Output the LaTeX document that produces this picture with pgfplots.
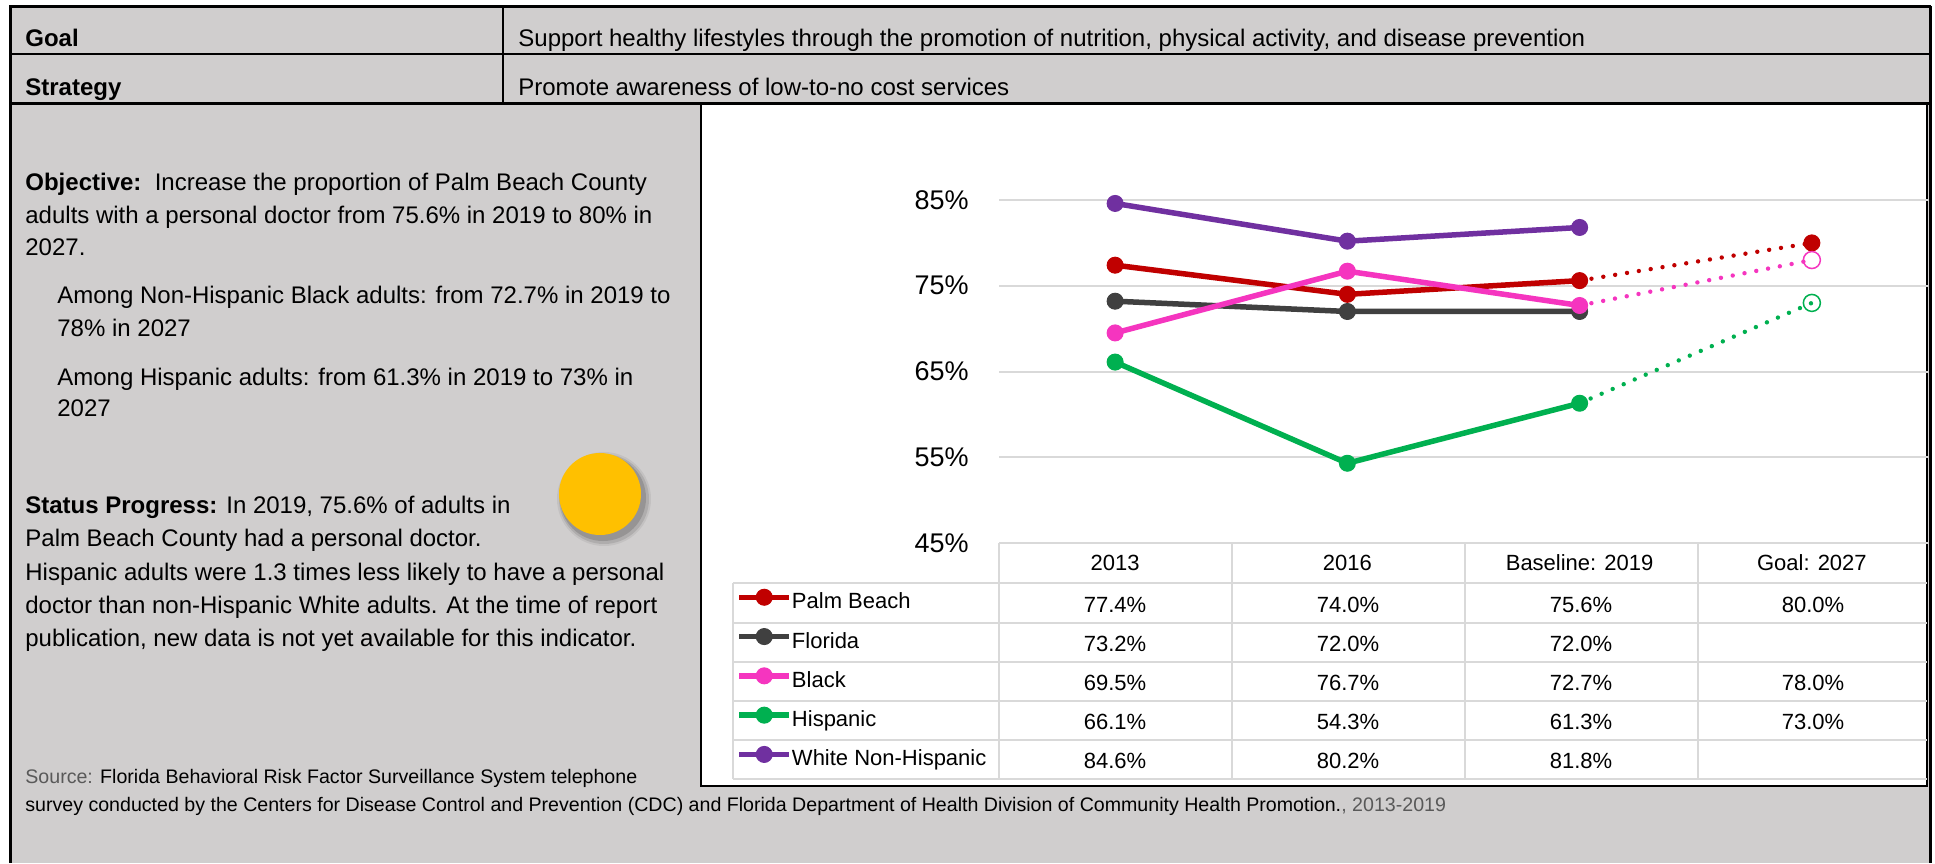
\documentclass[border=0pt]{standalone}
\usepackage{fontspec}
\setmainfont{Liberation Sans}
\usepackage{pgfplots}
\pgfplotsset{compat=1.18}
\definecolor{pbred}{HTML}{C00000}
\definecolor{flgray}{HTML}{404040}
\definecolor{blkpink}{HTML}{F535BF}
\definecolor{hispgreen}{HTML}{00B050}
\definecolor{whpurple}{HTML}{7030A0}
\definecolor{bggray}{HTML}{D0CECE}
\definecolor{gridgray}{HTML}{D9D9D9}
\definecolor{sunyellow}{HTML}{FFC000}
\definecolor{srcgray}{HTML}{595959}
\begin{document}
\begin{tikzpicture}
\begin{scope}[x=0.5pt,y=-0.5pt]
\useasboundingbox (0,0) rectangle (1935,863);
\fill[white] (0,0) rectangle (1935,863);
\fill[bggray] (10,6) rectangle (1930,863);
% chart box
\fill[white] (701,104) rectangle (1927,786);
\draw[black, line width=1pt] (701,104) rectangle (1927,786);
% header lines
\draw[line width=1.5pt] (9,6) -- (1931,6);
\draw[line width=1pt] (10,54) -- (1930,54);
\draw[line width=1.5pt] (10,103) -- (1930,103);
\draw[line width=1pt] (503,6) -- (503,103);
\draw[line width=1.5pt] (10,6) -- (10,863);
\draw[line width=1.5pt] (1930,6) -- (1930,863);
% header text
\begin{scope}[every node/.style={anchor=base west, inner sep=0pt}, font=\fontsize{12}{14}\selectfont]
\node at (25,46) {\textbf{Goal}};
\node at (518,46) {Support healthy lifestyles through the promotion of nutrition, physical activity, and disease prevention};
\node at (25,95) {\textbf{Strategy}};
\node at (518,95) {Promote awareness of low-to-no cost services};
\end{scope}
% left text
\begin{scope}[every node/.style={anchor=base west, inner sep=0pt}, font=\fontsize{12}{14}\selectfont]
\node at (25,190) {\textbf{Objective:}\ \ Increase the proportion of Palm Beach County};
\node at (25,223) {adults with a personal doctor from 75.6\% in 2019 to 80\% in};
\node at (25,255) {2027.};
\node at (57,303) {Among Non-Hispanic Black adults: from 72.7\% in 2019 to};
\node at (57,336) {78\% in 2027};
\node at (57,385) {Among Hispanic adults: from 61.3\% in 2019 to 73\% in};
\node at (57,416) {2027};
\node at (25,513) {\textbf{Status Progress:} In 2019, 75.6\% of adults in};
\node at (25,546) {Palm Beach County had a personal doctor.};
\node at (25,580) {Hispanic adults were 1.3 times less likely to have a personal};
\node at (25,613) {doctor than non-Hispanic White adults. At the time of report};
\node at (25,646) {publication, new data is not yet available for this indicator.};
\end{scope}
\begin{scope}[every node/.style={anchor=base west, inner sep=0pt}, font=\fontsize{9.8}{12}\selectfont]
\node at (25,783) {\textcolor{srcgray}{Source:} Florida Behavioral Risk Factor Surveillance System telephone};
\node at (25,811) {survey conducted by the Centers for Disease Control and Prevention (CDC) and Florida Department of Health Division of Community Health Promotion.\textcolor{srcgray}{, 2013-2019}};
\end{scope}
% status circle
\fill[black, opacity=0.06] (604,499) circle (47);
\fill[black, opacity=0.10] (604,499) circle (45);
\fill[black, opacity=0.14] (603,498) circle (43);
\fill[sunyellow] (600,494) circle (41);
% data table grid
\begin{scope}[gridgray, line width=1pt]
\foreach \yy in {583,623,662,701,740,779} {\draw (733,\yy) -- (1927,\yy);}
\foreach \xx in {999,1232,1465,1698} {\draw (\xx,543) -- (\xx,779);}
\draw (733,583) -- (733,779);
\end{scope}
% data table values
\begin{scope}[every node/.style={anchor=center, inner sep=0pt, text height=7.9pt, text depth=0pt}, font=\fontsize{11}{13}\selectfont]
\node at (1115,605) {77.4\%}; \node at (1348,605) {74.0\%}; \node at (1581,605) {75.6\%}; \node at (1813,605) {80.0\%};
\node at (1115,644) {73.2\%}; \node at (1348,644) {72.0\%}; \node at (1581,644) {72.0\%};
\node at (1115,683) {69.5\%}; \node at (1348,683) {76.7\%}; \node at (1581,683) {72.7\%}; \node at (1813,683) {78.0\%};
\node at (1115,722) {66.1\%}; \node at (1348,722) {54.3\%}; \node at (1581,722) {61.3\%}; \node at (1813,722) {73.0\%};
\node at (1115,761) {84.6\%}; \node at (1348,761) {80.2\%}; \node at (1581,761) {81.8\%};
\end{scope}
\end{scope}
\begin{axis}[
  at={(499.5pt,-271.5pt)}, anchor=south west,
  width=464.5pt, height=171.5pt, scale only axis,
  xmin=-0.5, xmax=3.5, ymin=45, ymax=85,
  xtick={0,1,2,3}, xticklabels={2013,2016,Baseline: 2019,Goal: 2027},
  ytick={45,55,65,75,85},
  yticklabel={\pgfmathprintnumber{\tick}\%},
  /pgf/number format/assume math mode=true,
  ymajorgrids, grid style={gridgray, line width=1pt},
  axis line style={draw=none}, major tick length=0pt,
  yticklabel style={anchor=east, inner sep=0pt, xshift=-15pt, font=\fontsize{13.5}{16}\selectfont},
  xticklabel style={anchor=center, inner sep=0pt, yshift=-10pt, text height=7.9pt, text depth=0pt, font=\fontsize{11}{13}\selectfont},
  clip=false,
  legend cell align=left,
  legend image code/.code={\draw[mark repeat=2,mark phase=2] plot coordinates {(0pt,2.9pt)(12.5pt,2.9pt)(25pt,2.9pt)};},
  legend style={at={(-0.2830,-0.1166)}, anchor=north west, draw=none, fill=none, inner sep=0pt, row sep=0pt,
    font=\fontsize{11}{13}\selectfont,
    nodes={inner sep=0pt, text height=7.9pt, text depth=2.2pt, minimum height=19.65pt},
    /tikz/every odd column/.append style={column sep=0pt}},
  every axis plot/.append style={line width=2.75pt, mark size=4pt},
]
% goal projections
\addplot[forget plot, pbred, line width=2.2pt, dash pattern=on 0pt off 6pt, line cap=round, mark=*, mark indices={2}, mark options={solid, line width=0.5pt}] coordinates {(2,75.6)(3,80.0)};
\addplot[forget plot, blkpink, line width=2.2pt, dash pattern=on 0pt off 6pt, line cap=round, mark=o, mark size=4.25pt, mark indices={2}, mark options={solid, line width=0.75pt}] coordinates {(2,72.7)(3,78.0)};
\addplot[forget plot, hispgreen, line width=2.2pt, dash pattern=on 0pt off 6pt, line cap=round, mark=o, mark size=4.25pt, mark indices={2}, mark options={solid, line width=0.75pt}] coordinates {(2,61.3)(3,73.0)};
% series
\addplot[pbred, mark=*, mark options={line width=0.5pt}] coordinates {(0,77.4)(1,74.0)(2,75.6)};
\addlegendentry{Palm Beach}
\addplot[flgray, mark=*, mark options={line width=0.5pt}] coordinates {(0,73.2)(1,72.0)(2,72.0)};
\addlegendentry{Florida}
\addplot[blkpink, mark=*, mark options={line width=0.5pt}] coordinates {(0,69.5)(1,76.7)(2,72.7)};
\addlegendentry{Black}
\addplot[hispgreen, mark=*, mark options={line width=0.5pt}] coordinates {(0,66.1)(1,54.3)(2,61.3)};
\addlegendentry{Hispanic}
\addplot[whpurple, mark=*, mark options={line width=0.5pt}] coordinates {(0,84.6)(1,80.2)(2,81.8)};
\addlegendentry{White Non-Hispanic}
\end{axis}
\end{tikzpicture}
\end{document}
